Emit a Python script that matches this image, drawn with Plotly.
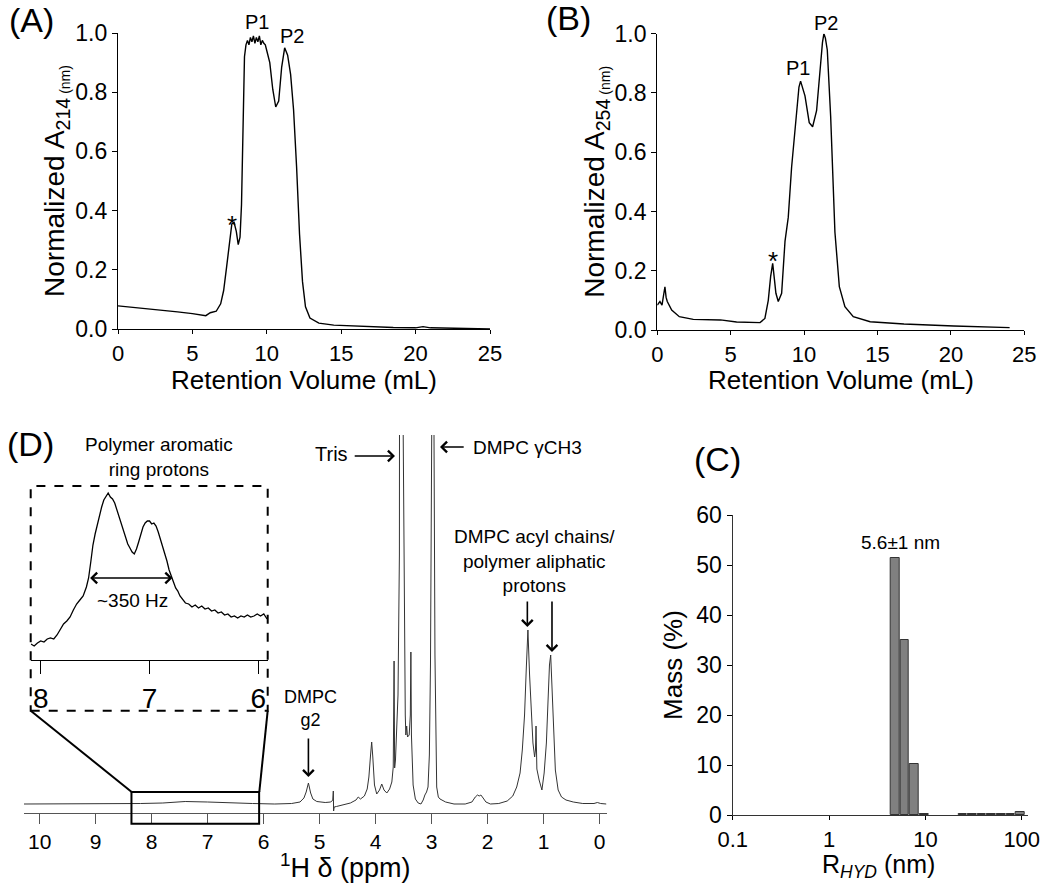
import numpy as np
import plotly.graph_objects as go

W, H = 1050, 891
FONT = "Liberation Sans, Arial, Helvetica, sans-serif"

# ---------------- Panel A : SEC trace, A214 ----------------
vol_a = [0, 1, 2, 3, 4, 5, 5.9, 6.2, 6.6, 6.9, 7.1, 7.3, 7.5, 7.65, 7.8, 7.95,
         8.08, 8.2, 8.3, 8.4, 8.5, 8.6, 8.7, 8.8, 8.9, 9.0, 9.1, 9.2, 9.3, 9.4,
         9.5, 9.6, 9.7, 9.8, 9.9, 10.0, 10.2, 10.4, 10.6, 10.8, 11.0, 11.2, 11.4,
         11.6, 11.8, 12.0, 12.2, 12.4, 12.6, 12.9, 13.5, 14.5, 16.5, 18.5, 20.0,
         20.5, 21.0, 23.0, 25.0]
abs214 = [0.078, 0.073, 0.070, 0.065, 0.058, 0.052, 0.045, 0.055, 0.060, 0.085,
          0.13, 0.21, 0.30, 0.355, 0.36, 0.33, 0.285, 0.31, 0.42, 0.65, 0.92,
          0.96, 0.975, 0.96, 0.985, 0.97, 0.99, 0.965, 0.985, 0.97, 0.99, 0.96,
          0.975, 0.965, 0.96, 0.94, 0.90, 0.81, 0.75, 0.77, 0.885, 0.95, 0.925,
          0.86, 0.74, 0.55, 0.32, 0.16, 0.075, 0.037, 0.02, 0.013, 0.008, 0.005,
          0.004, 0.008, 0.004, 0.002, 0.0]

# ---------------- Panel B : SEC trace, A254 ----------------
vol_b = [0, 0.18, 0.32, 0.45, 0.52, 0.6, 0.68, 0.98, 1.5, 2.45, 4.3, 5.4, 7.0,
         7.33, 7.56, 7.72, 7.86, 7.98, 8.08, 8.24, 8.47, 8.7, 8.92, 9.15, 9.45,
         9.65, 9.76, 9.9, 10.06, 10.35, 10.58, 10.85, 11.08, 11.25, 11.35, 11.45,
         11.58, 11.81, 12.1, 12.4, 12.78, 13.35, 14.5, 16.8, 20.2, 24.0]
abs254 = [0.084, 0.096, 0.084, 0.12, 0.146, 0.11, 0.096, 0.067, 0.045, 0.036,
          0.034, 0.027, 0.025, 0.039, 0.10, 0.18, 0.225, 0.17, 0.124, 0.096,
          0.124, 0.30, 0.38, 0.55, 0.73, 0.82, 0.84, 0.82, 0.79, 0.70, 0.686,
          0.74, 0.89, 0.97, 1.0, 0.985, 0.945, 0.72, 0.33, 0.146, 0.079, 0.045,
          0.028, 0.02, 0.0135, 0.008]

# ---------------- Panel C : DLS mass distribution ----------------
rhyd_nm = [4.84, 6.10, 7.67, 9.66, 24.3, 30.6, 38.5, 48.5, 61.0, 76.8, 96.6]
mass_pct = [51.5, 35.0, 10.2, 0.3, 0.15, 0.25, 0.3, 0.3, 0.3, 0.3, 0.7]
rhyd_ticks = [0.1, 1, 10, 100]
rhyd_tick_labels = ["0.1", "1", "10", "100"]

# ---------------- Panel D : 1H NMR spectrum ----------------
shift_ppm = [10.28, 9.5, 9.0, 8.6, 8.2, 7.8, 7.4, 7.0, 6.6, 6.2, 5.8, 5.5, 5.35,
             5.28, 5.24, 5.2, 5.16, 5.12, 5.05, 4.9, 4.8, 4.765, 4.755, 4.75,
             4.745, 4.74, 4.70, 4.6, 4.45, 4.35, 4.31, 4.27, 4.2, 4.15, 4.12,
             4.09, 4.07, 4.05, 4.02, 3.98, 3.93, 3.89, 3.85, 3.80, 3.75, 3.71,
             3.685, 3.67, 3.66, 3.645, 3.60, 3.575, 3.565, 3.535, 3.507, 3.49,
             3.47, 3.46, 3.445, 3.43, 3.40, 3.38, 3.37, 3.36, 3.33, 3.29, 3.24,
             3.19, 3.15, 3.12, 3.09, 3.064, 3.04, 3.02, 3.0, 2.998, 2.978, 2.957,
             2.94, 2.925, 2.909, 2.88, 2.85, 2.75, 2.6, 2.4, 2.28, 2.22, 2.18,
             2.15, 2.12, 2.08, 2.03, 1.95, 1.8, 1.65, 1.55, 1.48, 1.42, 1.38,
             1.34, 1.31, 1.28, 1.25, 1.22, 1.19, 1.16, 1.145, 1.135, 1.12, 1.08,
             1.03, 0.99, 0.95, 0.92, 0.895, 0.873, 0.85, 0.82, 0.79, 0.74, 0.68,
             0.6, 0.47, 0.3, 0.1, 0.04, -0.02, -0.12]
nmr_intensity = [1, 1, 1, 1, 1.5, 2, 3.5, 3, 2, 1.5, 1, 1.5, 3,
                 7, 13, 22, 12, 6, 3.5, 2.5, 3, 5, 14, -6,
                 -4, -2, -1.5, 0, 2, 5, 8, 6, 9, 16, 28,
                 50, 63, 48, 20, 11, 15, 21, 15, 12, 16, 23,
                 38, 144, 37, 45, 110, 250, 370, 3000, 370, 200,
                 90, 70, 79, 68, 70, 90, 153, 70, 20, 6, 2,
                 1, 5, 10, 13, 18, 50, 140, 350, 370, 3000, 370,
                 150, 50, 18, 8, 6, 3, 1, 1, 3, 8, 10,
                 9, 10, 7, 3, 1, 1.5, 4, 9, 18, 32, 55,
                 90, 135, 175, 130, 90, 62, 48, 55, 79, 36, 25,
                 15, 32, 62, 105, 140, 150, 120, 70, 35, 15, 8,
                 5, 3, 1.5, 1.5, 2.5, 1.5, 1]

inset_ppm = [8.09, 8.06, 8.03, 8.00, 7.97, 7.94, 7.91, 7.88, 7.85, 7.82, 7.79,
             7.76, 7.73, 7.70, 7.67, 7.64, 7.61, 7.58, 7.56, 7.54, 7.52, 7.50,
             7.48, 7.46, 7.44, 7.42, 7.40, 7.38, 7.36, 7.34, 7.32, 7.30, 7.28,
             7.26, 7.24, 7.22, 7.20, 7.18, 7.16, 7.14, 7.12, 7.10, 7.08, 7.06,
             7.04, 7.02, 7.00, 6.98, 6.96, 6.94, 6.92, 6.90, 6.88, 6.86, 6.84,
             6.82, 6.80, 6.78, 6.76, 6.74, 6.72, 6.70, 6.67, 6.64, 6.61, 6.58,
             6.55, 6.52, 6.49, 6.46, 6.43, 6.40, 6.37, 6.34, 6.31, 6.28, 6.25,
             6.22, 6.19, 6.16, 6.13, 6.10, 6.07, 6.04, 6.01, 5.98, 5.95, 5.92]
inset_intensity = [16, 14, 17, 19, 18, 21, 22, 21, 25, 30, 36,
                   39, 43, 50, 56, 60, 64, 73, 82, 98, 115, 126,
                   136, 145, 153, 160, 164, 167, 163, 161, 157, 150, 143,
                   136, 128, 122, 116, 112, 108, 106, 111, 118, 127, 133,
                   137, 139, 139, 136, 137, 134, 128, 121, 114, 107, 99,
                   90, 83, 78, 72, 69, 64, 61, 57, 56, 53, 55,
                   52, 54, 51, 52, 49, 50, 47, 48, 45, 46, 43,
                   44, 42, 44, 43, 45, 43, 44, 46, 44, 46, 41]
inset_ticks = [8, 7, 6]


def pxx(x):
    return x / W


def pyy(y):
    return 1 - y / H


fig = go.Figure()

fig.add_trace(go.Scatter(x=vol_a, y=abs214, mode="lines", xaxis="x", yaxis="y",
                         line=dict(color="black", width=1.4), showlegend=False))
fig.add_trace(go.Scatter(x=vol_b, y=abs254, mode="lines", xaxis="x2", yaxis="y2",
                         line=dict(color="black", width=1.4), showlegend=False))
fig.add_trace(go.Bar(x=np.log10(rhyd_nm), y=mass_pct, width=0.09, xaxis="x3", yaxis="y3",
                     marker=dict(color="#808080", line=dict(color="#333333", width=1)),
                     showlegend=False))
fig.add_trace(go.Scatter(x=shift_ppm, y=nmr_intensity, mode="lines", xaxis="x4", yaxis="y4",
                         line=dict(color="#333333", width=1), showlegend=False))
fig.add_trace(go.Scatter(x=inset_ppm, y=inset_intensity, mode="lines", xaxis="x5", yaxis="y5",
                         line=dict(color="black", width=1.3), showlegend=False))

tickfont = dict(family=FONT, size=23, color="black")
common_axis = dict(showline=True, linecolor="black", linewidth=1.4, ticks="outside",
                   ticklen=5, tickwidth=1.3, tickcolor="black", showgrid=False,
                   zeroline=False, tickfont=tickfont, automargin=False)

layout = dict(
    template="none",
    width=W, height=H, margin=dict(l=0, r=0, t=0, b=0, pad=0, autoexpand=False),
    autosize=False,
    paper_bgcolor="white", plot_bgcolor="white",
    font=dict(family=FONT, color="black"),
    showlegend=False,
    bargap=0,
)

xtickfont = dict(family=FONT, size=22, color="black")

# Panel A axes
layout["xaxis"] = dict(common_axis, domain=[pxx(118), pxx(490)], range=[0, 25],
                       tickvals=[0, 5, 10, 15, 20, 25], anchor="y", ticklen=4,
                       tickfont=xtickfont)
layout["yaxis"] = dict(common_axis, domain=[pyy(329), pyy(33)], range=[0, 1],
                       tickvals=[0, 0.2, 0.4, 0.6, 0.8, 1.0], tickformat=".1f", anchor="x",
                       title=dict(text="Normalized A<sub>214</sub><sub><span style='font-size:14px'> (nm)</span></sub>",
                                  font=dict(size=28), standoff=2))
# Panel B axes
layout["xaxis2"] = dict(common_axis, domain=[pxx(657.3), pxx(1024.3)], range=[0, 25],
                        tickvals=[0, 5, 10, 15, 20, 25], anchor="y2", ticklen=4,
                        tickfont=xtickfont)
layout["yaxis2"] = dict(common_axis, domain=[pyy(330), pyy(33.7)], range=[0, 1],
                        tickvals=[0, 0.2, 0.4, 0.6, 0.8, 1.0], tickformat=".1f", anchor="x2",
                        title=dict(text="Normalized A<sub>254</sub><sub><span style='font-size:14px'> (nm)</span></sub>",
                                   font=dict(size=28), standoff=1))
# Panel C axes (log10 of radius on a linear axis)
layout["xaxis3"] = dict(common_axis, domain=[pxx(732.7), pxx(1028)], range=[-1, 2.065],
                        tickvals=list(np.log10(rhyd_ticks)), ticktext=rhyd_tick_labels,
                        anchor="y3", linecolor="#333333", ticklen=4,
                        tickfont=xtickfont)
layout["yaxis3"] = dict(common_axis, domain=[pyy(815), pyy(515)], range=[0, 60],
                        tickvals=[0, 10, 20, 30, 40, 50, 60], anchor="x3", linecolor="#333333",
                        title=dict(text="Mass (%)", font=dict(size=26), standoff=6))
# Panel D main spectrum
layout["xaxis4"] = dict(showline=True, linecolor="#555555", linewidth=1.2, ticks="outside",
                        ticklen=10, tickwidth=1.2, tickcolor="#555555", showgrid=False,
                        zeroline=False, tickfont=dict(family=FONT, size=21, color="black"),
                        domain=[pxx(24), pxx(606.7)], range=[10.279, -0.127],
                        tickvals=list(range(0, 11)), anchor="free", position=pyy(813),
                        automargin=False)
layout["yaxis4"] = dict(domain=[pyy(826), pyy(435)], range=[-21, 370], visible=False,
                        anchor="x4", showgrid=False, zeroline=False, automargin=False)
# Panel D inset
layout["xaxis5"] = dict(showline=True, linecolor="black", linewidth=1.2, ticks="outside",
                        ticklen=13, tickwidth=1.2, tickcolor="black", showgrid=False,
                        zeroline=False, tickfont=dict(family=FONT, size=28, color="black"),
                        domain=[pxx(30.7), pxx(267.7)], range=[8.092, 5.914],
                        tickvals=inset_ticks, anchor="y5", automargin=False)
layout["yaxis5"] = dict(domain=[pyy(660), pyy(486)], range=[0, 174], visible=False,
                        anchor="x5", showgrid=False, zeroline=False, automargin=False)

fig.update_layout(**layout)

ann = []


def txt(x, y, text, size, xref, yref, **kw):
    d = dict(x=x, y=y, text=text, xref=xref, yref=yref, showarrow=False,
             xanchor="center", yanchor="middle",
             font=dict(family=FONT, size=size, color="black"))
    d.update(kw)
    ann.append(d)


def arrow(x, y, ax, ay, xref, yref, **kw):
    d = dict(x=x, y=y, ax=ax, ay=ay, xref=xref, yref=yref, axref=xref, ayref=yref,
             text="", showarrow=True, arrowhead=4, arrowsize=1.3, arrowwidth=1.6,
             arrowcolor="black", standoff=0, startstandoff=0)
    d.update(kw)
    ann.append(d)


# panel letters
txt(pxx(31), pyy(20), "(A)", 34, "paper", "paper")
txt(pxx(568), pyy(18), "(B)", 34, "paper", "paper")
txt(pxx(717), pyy(459), "(C)", 34, "paper", "paper")
txt(pxx(30), pyy(444), "(D)", 34, "paper", "paper")

# axis titles of panels A, B, C
txt(pxx(304), pyy(380), "Retention Volume (mL)", 26, "paper", "paper")
txt(pxx(841), pyy(380), "Retention Volume (mL)", 26, "paper", "paper")
txt(pxx(878), pyy(866), "R<sub><i>HYD</i></sub> (nm)", 25, "paper", "paper")

# Panel A labels
txt(9.34, pyy(22), "P1", 20, "x", "paper")
txt(11.7, 0.99, "P2", 20, "x", "y")
txt(7.66, 0.35, "*", 26, "x", "y")
# Panel B labels
txt(9.6, 0.883, "P1", 20, "x2", "y2")
txt(11.49, pyy(23), "P2", 20, "x2", "paper")
txt(7.9, 0.233, "*", 26, "x2", "y2")
# Panel C label
txt(np.log10(5.46), 54.5, "5.6±1 nm", 19, "x3", "y3")

# Panel D labels and arrows
txt(4.787, 351, "Tris", 20, "x4", "y4")
arrow(3.654, 349, 4.40, 349, "x4", "y4")
txt(1.287, 358, "DMPC γCH3", 19, "x4", "y4")
arrow(2.85, 358, 2.40, 358, "x4", "y4")
txt(1.17, 244, "DMPC acyl chains/<br>polymer aliphatic<br>protons", 19, "x4", "y4")
arrow(1.29, 178, 1.29, 205, "x4", "y4")
arrow(0.85, 153, 0.85, 205, "x4", "y4")
txt(5.17, 97, "DMPC<br>g2", 18, "x4", "y4")
arrow(5.2, 28, 5.2, 68, "x4", "y4")
txt(pxx(345), pyy(866), "<sup>1</sup>H δ (ppm)", 27, "paper", "paper")

# inset labels
txt(pxx(159), pyy(457), "Polymer aromatic<br>ring protons", 19, "paper", "paper")
txt(7.16, 60, "~350 Hz", 19, "x5", "y5")
arrow(6.79, 82, 7.56, 82, "x5", "y5", arrowside="end+start")

fig.update_layout(annotations=ann)

shapes = [
    # dashed inset frame
    dict(type="rect", xref="paper", yref="paper", x0=pxx(30.7), x1=pxx(267.7),
         y0=pyy(710.7), y1=pyy(486), line=dict(color="black", width=2, dash="dash")),
    # zoom box on the spectrum
    dict(type="rect", xref="x4", yref="y4", x0=8.36, x1=6.08, y0=-18.7, y1=13,
         line=dict(color="black", width=2)),
    # connectors
    dict(type="line", xref="paper", yref="paper", x0=pxx(30.7), y0=pyy(710.7),
         x1=pxx(131.7), y1=pyy(792), line=dict(color="black", width=2)),
    dict(type="line", xref="paper", yref="paper", x0=pxx(267.7), y0=pyy(710.7),
         x1=pxx(259.3), y1=pyy(792), line=dict(color="black", width=2)),
]
fig.update_layout(shapes=shapes)

fig.write_html("out.html", config={"displayModeBar": False},
               post_script="document.body.style.margin='0';document.body.style.overflow='hidden';")
